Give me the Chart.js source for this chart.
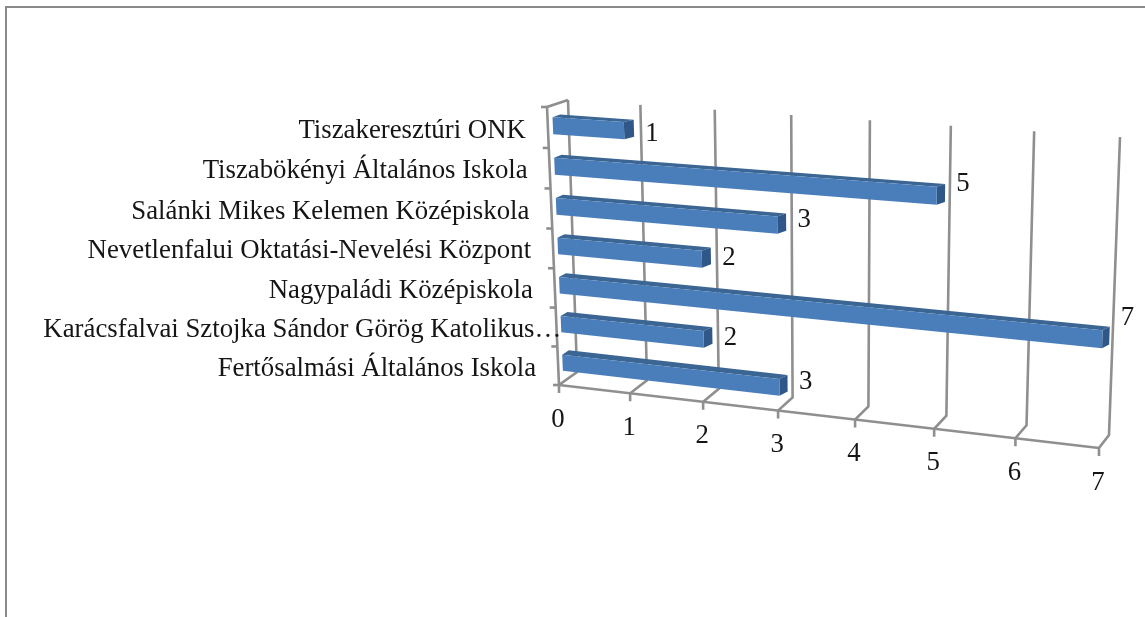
<!DOCTYPE html>
<html><head><meta charset="utf-8">
<style>html,body{margin:0;padding:0;background:#fff;overflow:hidden}canvas{display:block;filter:blur(0.5px)}</style>
<script src="https://cdn.jsdelivr.net/npm/chart.js@4/dist/chart.umd.js"></script>
</head><body><canvas id="c" width="1145" height="617"></canvas>
<script>
const categories = ["Tiszakeresztúri ONK","Tiszabökényi Általános Iskola","Salánki Mikes Kelemen Középiskola","Nevetlenfalui Oktatási-Nevelési Központ","Nagypaládi Középiskola","Karácsfalvai Sztojka Sándor Görög Katolikus…","Fertősalmási Általános Iskola"];
const values = [1,5,3,2,7,2,3];
const axisMax = 7;

// view of the 3D box: corners of the front and back planes (TL, TR, BR, BL)
const frontPlane = [[547,107],[1107,144],[1099,448],[559,385]];
const backPlane  = [[568,100],[1120,137],[1109,435],[577,372]];
const barDepth = [0.24,0.6];
const gridColor = '#8f8f8f', textColor = '#151515', FONT = '26.8px "Liberation Serif"';

function homography(q){
  const [[x0,y0],[x1,y1],[x2,y2],[x3,y3]] = q;
  const dx1=x1-x2,dx2=x3-x2,sx=x0-x1+x2-x3,dy1=y1-y2,dy2=y3-y2,sy=y0-y1+y2-y3;
  const den=dx1*dy2-dx2*dy1, g=(sx*dy2-dx2*sy)/den, h=(dx1*sy-sx*dy1)/den;
  const a=x1-x0+g*x1,b=x3-x0+h*x3,d=y1-y0+g*y1,e=y3-y0+h*y3;
  return (u,v)=>{const w=g*u+h*v+1;return [(a*u+b*v+x0)/w,(d*u+e*v+y0)/w];};
}
const Hf=homography(frontPlane), Hb=homography(backPlane);

const perspective = {
  id:'perspective',
  beforeDatasetsDraw(chart){
    const {ctx,chartArea:A,scales:{x,y}} = chart;
    const P=(px,py,z)=>{
      const u=(px-A.left)/(A.right-A.left), v=(py-A.top)/(A.bottom-A.top);
      const f=Hf(u,v), b=Hb(u,v);
      return [f[0]+(b[0]-f[0])*z, f[1]+(b[1]-f[1])*z];
    };
    chart.$P=P;
    const line=(pts)=>{ctx.beginPath();pts.forEach((p,i)=>i?ctx.lineTo(p[0],p[1]):ctx.moveTo(p[0],p[1]));ctx.stroke();};
    ctx.save();
    // page frame
    ctx.strokeStyle='#8a8a8a';ctx.lineWidth=2;
    ctx.beginPath();ctx.moveTo(6,617);ctx.lineTo(6,7);ctx.lineTo(1145,7);ctx.stroke();
    ctx.strokeStyle=gridColor;ctx.lineWidth=2.6;ctx.lineJoin='miter';
    // value grid: back wall + floor, with front ticks
    x.ticks.forEach(t=>{
      const px=x.getPixelForValue(t.value);
      const ft=P(px,A.bottom,0), fb=P(px,A.bottom,1), bt=P(px,A.top,1);
      line([[ft[0],ft[1]+8],ft,fb,bt]);
    });
    // floor front edge, left wall edges
    line([P(A.left,A.bottom,0),P(A.right,A.bottom,0)]);
    line([P(A.left,A.top,1),P(A.left,A.top,0),P(A.left,A.bottom,0)]);
    // category separators on the front edge
    for(let i=0;i<=categories.length;i++){
      const py=A.top+(A.bottom-A.top)*i/categories.length;
      const p=P(A.left,py,0);
      line([[p[0]-6,p[1]],p]);
    }
    ctx.restore();
  },
  beforeDatasetDraw(chart,args){
    const {ctx}=chart, P=chart.$P, [z1,z2]=barDepth;
    const poly=(pts,c)=>{ctx.fillStyle=c;ctx.beginPath();pts.forEach((p,i)=>i?ctx.lineTo(p[0],p[1]):ctx.moveTo(p[0],p[1]));ctx.closePath();ctx.fill();};
    args.meta.data.forEach(el=>{
      const x0=el.base,x1=el.x,yt=el.y-el.height/2,yb=el.y+el.height/2;
      const f=x1-2, k=x1+1; // end face reads a little wider than the box depth
      poly([P(x0,yt,z1),P(f,yt,z1),P(k,yt,z2),P(x0,yt,z2)],'#3b6593');
      poly([P(f,yt,z1),P(k,yt,z2),P(k,yb,z2),P(f,yb,z1)],'#2f5888');
      poly([P(x0,yt,z1),P(f,yt,z1),P(f,yb,z1),P(x0,yb,z1)],'#4a7ebb');
    });
    return false;
  },
  afterDatasetsDraw(chart){
    const {ctx,chartArea:A,scales:{x,y}}=chart, P=chart.$P;
    ctx.save();ctx.font=FONT;ctx.fillStyle=textColor;ctx.textBaseline='middle';
    // category labels
    ctx.textAlign='left';
    y.ticks.forEach((t,i)=>{
      const lab=categories[t.value], p=P(A.left,y.getPixelForValue(t.value),0);
      const w=ctx.measureText(lab.replace(/…$/,'')).width;
      ctx.fillText(lab,p[0]-22-w,p[1]+3);
    });
    ctx.textAlign='center';
    // value-axis labels
    x.ticks.forEach(t=>{
      const p=P(x.getPixelForValue(t.value),A.bottom,0);
      ctx.fillText(String(t.value),p[0]-1,p[1]+34.5);
    });
    // data labels
    chart.getDatasetMeta(0).data.forEach((el,i)=>{
      const e=P(el.x,el.y,barDepth[1]);
      ctx.fillText(String(values[i]),e[0]+19,e[1]+10-0.05*(e[0]-555));
    });
    ctx.restore();
  }
};

new Chart(document.getElementById('c'),{
  type:'bar',
  data:{labels:categories,datasets:[{data:values,backgroundColor:'#4a7ebb',barPercentage:0.42,categoryPercentage:1}]},
  options:{
    indexAxis:'y',responsive:false,animation:false,
    layout:{padding:{left:547,top:107,right:38,bottom:169}},
    plugins:{legend:{display:false},tooltip:{enabled:false}},
    scales:{
      x:{display:false,min:0,max:axisMax,ticks:{stepSize:1}},
      y:{display:false}
    }
  },
  plugins:[perspective]
});
</script></body></html>
